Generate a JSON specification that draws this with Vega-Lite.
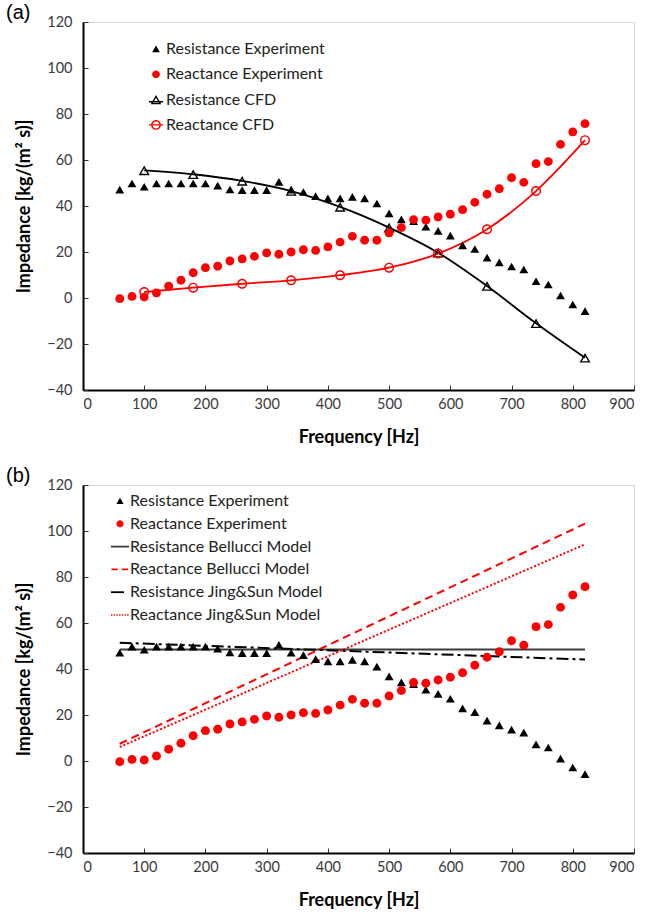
{
  "$schema": "https://vega.github.io/schema/vega-lite/v6.json",
  "padding": {"left": 5, "top": 2, "right": 0, "bottom": 0},
  "background": "white",
  "config": {
    "view": {"stroke": "#d9d9d9", "strokeWidth": 1},
    "font": "Lato",
    "axis": {
      "labelFont": "Lato", "labelFontSize": 14.5, "labelColor": "#3a3a3a",
      "titleFont": "Lato", "titleFontSize": 18, "titleFontWeight": "bold", "titleColor": "black",
      "domainColor": "black", "domainWidth": 2, "tickColor": "#333333", "tickWidth": 1, "tickSize": -5,
      "grid": false, "labelPadding": 14
    },
    "legend": {"padding": 0},
    "concat": {"spacing": 18}
  },
  "datasets": {
    "exp": [
      {"f": 60, "series": "Resistance Experiment", "v": 47.0},
      {"f": 80, "series": "Resistance Experiment", "v": 49.7},
      {"f": 100, "series": "Resistance Experiment", "v": 48.3},
      {"f": 120, "series": "Resistance Experiment", "v": 49.7},
      {"f": 140, "series": "Resistance Experiment", "v": 49.7},
      {"f": 160, "series": "Resistance Experiment", "v": 49.7},
      {"f": 180, "series": "Resistance Experiment", "v": 49.7},
      {"f": 200, "series": "Resistance Experiment", "v": 49.7},
      {"f": 220, "series": "Resistance Experiment", "v": 48.8},
      {"f": 240, "series": "Resistance Experiment", "v": 47.1},
      {"f": 260, "series": "Resistance Experiment", "v": 46.8},
      {"f": 280, "series": "Resistance Experiment", "v": 46.8},
      {"f": 300, "series": "Resistance Experiment", "v": 46.8},
      {"f": 320, "series": "Resistance Experiment", "v": 50.4},
      {"f": 340, "series": "Resistance Experiment", "v": 47.0},
      {"f": 360, "series": "Resistance Experiment", "v": 46.0},
      {"f": 380, "series": "Resistance Experiment", "v": 44.2},
      {"f": 400, "series": "Resistance Experiment", "v": 43.2},
      {"f": 420, "series": "Resistance Experiment", "v": 43.2},
      {"f": 440, "series": "Resistance Experiment", "v": 43.9},
      {"f": 460, "series": "Resistance Experiment", "v": 43.2},
      {"f": 480, "series": "Resistance Experiment", "v": 41.0},
      {"f": 500, "series": "Resistance Experiment", "v": 36.7},
      {"f": 520, "series": "Resistance Experiment", "v": 34.1},
      {"f": 540, "series": "Resistance Experiment", "v": 33.3},
      {"f": 560, "series": "Resistance Experiment", "v": 30.9},
      {"f": 580, "series": "Resistance Experiment", "v": 29.1},
      {"f": 600, "series": "Resistance Experiment", "v": 27.0},
      {"f": 620, "series": "Resistance Experiment", "v": 22.8},
      {"f": 640, "series": "Resistance Experiment", "v": 21.2},
      {"f": 660, "series": "Resistance Experiment", "v": 17.5},
      {"f": 680, "series": "Resistance Experiment", "v": 15.4},
      {"f": 700, "series": "Resistance Experiment", "v": 13.6},
      {"f": 720, "series": "Resistance Experiment", "v": 12.3},
      {"f": 740, "series": "Resistance Experiment", "v": 7.2},
      {"f": 760, "series": "Resistance Experiment", "v": 5.8},
      {"f": 780, "series": "Resistance Experiment", "v": 1.0},
      {"f": 800, "series": "Resistance Experiment", "v": -2.9},
      {"f": 820, "series": "Resistance Experiment", "v": -5.8},
      {"f": 60, "series": "Reactance Experiment", "v": -0.3},
      {"f": 80, "series": "Reactance Experiment", "v": 0.7},
      {"f": 100, "series": "Reactance Experiment", "v": 0.4},
      {"f": 120, "series": "Reactance Experiment", "v": 2.2},
      {"f": 140, "series": "Reactance Experiment", "v": 5.1},
      {"f": 160, "series": "Reactance Experiment", "v": 7.7},
      {"f": 180, "series": "Reactance Experiment", "v": 11.0},
      {"f": 200, "series": "Reactance Experiment", "v": 13.2},
      {"f": 220, "series": "Reactance Experiment", "v": 13.8},
      {"f": 240, "series": "Reactance Experiment", "v": 16.1},
      {"f": 260, "series": "Reactance Experiment", "v": 17.0},
      {"f": 280, "series": "Reactance Experiment", "v": 18.1},
      {"f": 300, "series": "Reactance Experiment", "v": 19.6},
      {"f": 320, "series": "Reactance Experiment", "v": 19.0},
      {"f": 340, "series": "Reactance Experiment", "v": 20.0},
      {"f": 360, "series": "Reactance Experiment", "v": 21.0},
      {"f": 380, "series": "Reactance Experiment", "v": 20.7},
      {"f": 400, "series": "Reactance Experiment", "v": 22.2},
      {"f": 420, "series": "Reactance Experiment", "v": 24.3},
      {"f": 440, "series": "Reactance Experiment", "v": 26.8},
      {"f": 460, "series": "Reactance Experiment", "v": 25.1},
      {"f": 480, "series": "Reactance Experiment", "v": 25.1},
      {"f": 500, "series": "Reactance Experiment", "v": 28.3},
      {"f": 520, "series": "Reactance Experiment", "v": 30.6},
      {"f": 540, "series": "Reactance Experiment", "v": 34.1},
      {"f": 560, "series": "Reactance Experiment", "v": 33.8},
      {"f": 580, "series": "Reactance Experiment", "v": 35.2},
      {"f": 600, "series": "Reactance Experiment", "v": 36.4},
      {"f": 620, "series": "Reactance Experiment", "v": 38.4},
      {"f": 640, "series": "Reactance Experiment", "v": 41.6},
      {"f": 660, "series": "Reactance Experiment", "v": 45.1},
      {"f": 680, "series": "Reactance Experiment", "v": 47.5},
      {"f": 700, "series": "Reactance Experiment", "v": 52.3},
      {"f": 720, "series": "Reactance Experiment", "v": 50.3},
      {"f": 740, "series": "Reactance Experiment", "v": 58.4},
      {"f": 760, "series": "Reactance Experiment", "v": 59.3},
      {"f": 780, "series": "Reactance Experiment", "v": 66.8},
      {"f": 800, "series": "Reactance Experiment", "v": 72.2},
      {"f": 820, "series": "Reactance Experiment", "v": 75.8}
    ],
    "cfd": [
      {"f": 100, "series": "Resistance CFD", "v": 55.5},
      {"f": 180, "series": "Resistance CFD", "v": 53.8},
      {"f": 260, "series": "Resistance CFD", "v": 50.9},
      {"f": 340, "series": "Resistance CFD", "v": 46.5},
      {"f": 420, "series": "Resistance CFD", "v": 39.6},
      {"f": 500, "series": "Resistance CFD", "v": 30.6},
      {"f": 580, "series": "Resistance CFD", "v": 19.7},
      {"f": 660, "series": "Resistance CFD", "v": 5.2},
      {"f": 740, "series": "Resistance CFD", "v": -11.0},
      {"f": 820, "series": "Resistance CFD", "v": -26.0},
      {"f": 100, "series": "Reactance CFD", "v": 2.6},
      {"f": 180, "series": "Reactance CFD", "v": 4.5},
      {"f": 260, "series": "Reactance CFD", "v": 6.2},
      {"f": 340, "series": "Reactance CFD", "v": 7.7},
      {"f": 420, "series": "Reactance CFD", "v": 9.9},
      {"f": 500, "series": "Reactance CFD", "v": 13.2},
      {"f": 580, "series": "Reactance CFD", "v": 19.3},
      {"f": 660, "series": "Reactance CFD", "v": 29.9},
      {"f": 740, "series": "Reactance CFD", "v": 46.5},
      {"f": 820, "series": "Reactance CFD", "v": 68.6}
    ],
    "models": [
      {"f": 60, "series": "Resistance Bellucci Model", "v": 48.5},
      {"f": 820, "series": "Resistance Bellucci Model", "v": 48.5},
      {"f": 60, "series": "Reactance Bellucci Model", "v": 7.5},
      {"f": 820, "series": "Reactance Bellucci Model", "v": 103.2},
      {"f": 60, "series": "Resistance Jing&Sun Model", "v": 51.4},
      {"f": 820, "series": "Resistance Jing&Sun Model", "v": 44.1},
      {"f": 60, "series": "Reactance Jing&Sun Model", "v": 6.1},
      {"f": 820, "series": "Reactance Jing&Sun Model", "v": 94.2}
    ]
  },
  "resolve": {"scale": {"color": "independent", "shape": "independent", "strokeDash": "independent"}, "legend": {"color": "independent", "shape": "independent"}},
  "vconcat": [
    {
      "width": 551, "height": 368,
      "title": {"text": "(a)", "anchor": "start", "frame": "group", "dx": -77, "offset": -25, "baseline": "alphabetic", "font": "Liberation Sans", "fontSize": 20, "fontWeight": "normal", "color": "black"},
      "encoding": {
        "x": {"field": "f", "type": "quantitative", "title": "Frequency [Hz]", "scale": {"domain": [0, 900], "nice": false}, "axis": {"values": [0,100,200,300,400,500,600,700,800,900], "labelPadding": 12, "titlePadding": 18}},
        "y": {"field": "v", "type": "quantitative", "title": "Impedance [kg/(m² s)]", "scale": {"domain": [-40, 120], "nice": false}, "axis": {"values": [-40,-20,0,20,40,60,80,100,120], "labelPadding": 16, "titlePadding": 13}},
        "color": {"field": "series", "type": "nominal",
          "scale": {"domain": ["Resistance Experiment", "Reactance Experiment", "Resistance CFD", "Reactance CFD"], "range": ["black", "red", "black", "red"]},
          "legend": {"title": null, "orient": "none", "legendX": 65, "legendY": 19, "labelFont": "Lato", "labelFontSize": 16, "labelColor": "#222222", "labelOffset": 2, "labelLimit": 400, "symbolSize": 196, "symbolStrokeWidth": 0, "rowPadding": 9.3}
        }
      },
      "layer": [
        {"data": {"name": "cfd"}, "mark": {"type": "line", "interpolate": "monotone", "strokeWidth": 1.8}, "encoding": {}},
        {"data": {"name": "cfd"}, "transform": [{"filter": "datum.series == 'Resistance CFD'"}],
          "mark": {"type": "point", "filled": true, "opacity": 1, "size": 121, "shape": "M0,-0.875L1,0.875L-1,0.875ZM0,-0.375L-0.571,0.625L0.571,0.625Z"}, "encoding": {}},
        {"data": {"name": "cfd"}, "transform": [{"filter": "datum.series == 'Reactance CFD'"}],
          "mark": {"type": "point", "filled": true, "opacity": 1, "size": 100, "shape": "M1,0A1,1 0 1,1 -1,0A1,1 0 1,1 1,0ZM0.72,0A0.72,0.72 0 1,0 -0.72,0A0.72,0.72 0 1,0 0.72,0Z"}, "encoding": {}},
        {"data": {"name": "exp"}, "mark": {"type": "point", "filled": true, "opacity": 1, "size": 260},
          "encoding": {"shape": {"field": "series", "type": "nominal",
            "scale": {"domain": ["Resistance Experiment", "Reactance Experiment", "Resistance CFD", "Reactance CFD"],
              "range": [
                "M0,-0.5L0.55,0.45L-0.55,0.45Z",
                "M0.55,0A0.55,0.55 0 1,1 -0.55,0A0.55,0.55 0 1,1 0.55,0Z",
                "M-1,0.2L1,0.2L1,0.4L-1,0.4ZM0,-0.66L0.75,0.66L-0.75,0.66ZM0,-0.28L-0.426,0.47L0.426,0.47Z",
                "M-1,-0.1L1,-0.1L1,0.1L-1,0.1ZM0.7,0A0.7,0.7 0 1,1 -0.7,0A0.7,0.7 0 1,1 0.7,0ZM0.5,0A0.5,0.5 0 1,0 -0.5,0A0.5,0.5 0 1,0 0.5,0Z"
              ]},
            "legend": {"title": null, "orient": "none", "legendX": 65, "legendY": 19, "labelFont": "Lato", "labelFontSize": 16, "labelColor": "#222222", "labelOffset": 2, "labelLimit": 400, "symbolSize": 196, "symbolStrokeWidth": 0, "rowPadding": 9.3}}}}
      ]
    },
    {
      "width": 551, "height": 368,
      "title": {"text": "(b)", "anchor": "start", "frame": "group", "dx": -77, "offset": -25, "baseline": "alphabetic", "font": "Liberation Sans", "fontSize": 20, "fontWeight": "normal", "color": "black"},
      "encoding": {
        "x": {"field": "f", "type": "quantitative", "title": "Frequency [Hz]", "scale": {"domain": [0, 900], "nice": false}, "axis": {"values": [0,100,200,300,400,500,600,700,800,900], "labelPadding": 12, "titlePadding": 18}},
        "y": {"field": "v", "type": "quantitative", "title": "Impedance [kg/(m² s)]", "scale": {"domain": [-40, 120], "nice": false}, "axis": {"values": [-40,-20,0,20,40,60,80,100,120], "labelPadding": 16, "titlePadding": 13}},
        "color": {"field": "series", "type": "nominal",
          "scale": {"domain": ["Resistance Experiment", "Reactance Experiment", "Resistance Bellucci Model", "Reactance Bellucci Model", "Resistance Jing&Sun Model", "Reactance Jing&Sun Model"], "range": ["black", "red", "#3a3a3a", "red", "black", "red"]},
          "legend": {"title": null, "orient": "none", "legendX": 28, "legendY": 7, "labelFont": "Lato", "labelFontSize": 16, "labelColor": "#222222", "labelOffset": 1, "labelLimit": 400, "symbolSize": 324, "symbolStrokeWidth": 0, "rowPadding": 5.8}
        }
      },
      "layer": [
        {"data": {"name": "models"}, "mark": {"type": "line", "strokeWidth": 2},
          "encoding": {"strokeDash": {"field": "series", "type": "nominal", "scale": {"domain": ["Resistance Bellucci Model", "Reactance Bellucci Model", "Resistance Jing&Sun Model", "Reactance Jing&Sun Model"], "range": [[1, 0], [8, 5], [12, 4, 3, 4], [2, 2]]}, "legend": null}}},
        {"data": {"name": "exp"}, "mark": {"type": "point", "filled": true, "opacity": 1, "size": 500},
          "encoding": {"shape": {"field": "series", "type": "nominal",
            "scale": {"domain": ["Resistance Experiment", "Reactance Experiment", "Resistance Bellucci Model", "Reactance Bellucci Model", "Resistance Jing&Sun Model", "Reactance Jing&Sun Model"],
              "range": [
                "M0,-0.36L0.4,0.33L-0.4,0.33Z",
                "M0.4,0A0.4,0.4 0 1,1 -0.4,0A0.4,0.4 0 1,1 0.4,0Z",
                "M-1,-0.1L1,-0.1L1,0.1L-1,0.1Z",
                "M-0.95,-0.1L-0.25,-0.1L-0.25,0.1L-0.95,0.1ZM0.2,-0.1L0.9,-0.1L0.9,0.1L0.2,0.1Z",
                "M-1,-0.1L0.45,-0.1L0.45,0.1L-1,0.1Z",
                "M-1,-0.07L-0.85,-0.07L-0.85,0.07L-1,0.07ZM-0.7,-0.07L-0.55,-0.07L-0.55,0.07L-0.7,0.07ZM-0.4,-0.07L-0.25,-0.07L-0.25,0.07L-0.4,0.07ZM-0.1,-0.07L0.05,-0.07L0.05,0.07L-0.1,0.07ZM0.2,-0.07L0.35,-0.07L0.35,0.07L0.2,0.07ZM0.5,-0.07L0.65,-0.07L0.65,0.07L0.5,0.07ZM0.8,-0.07L0.95,-0.07L0.95,0.07L0.8,0.07Z"
              ]},
            "legend": {"title": null, "orient": "none", "legendX": 28, "legendY": 7, "labelFont": "Lato", "labelFontSize": 16, "labelColor": "#222222", "labelOffset": 1, "labelLimit": 400, "symbolSize": 324, "symbolStrokeWidth": 0, "rowPadding": 5.8}}}}
      ]
    }
  ]
}
